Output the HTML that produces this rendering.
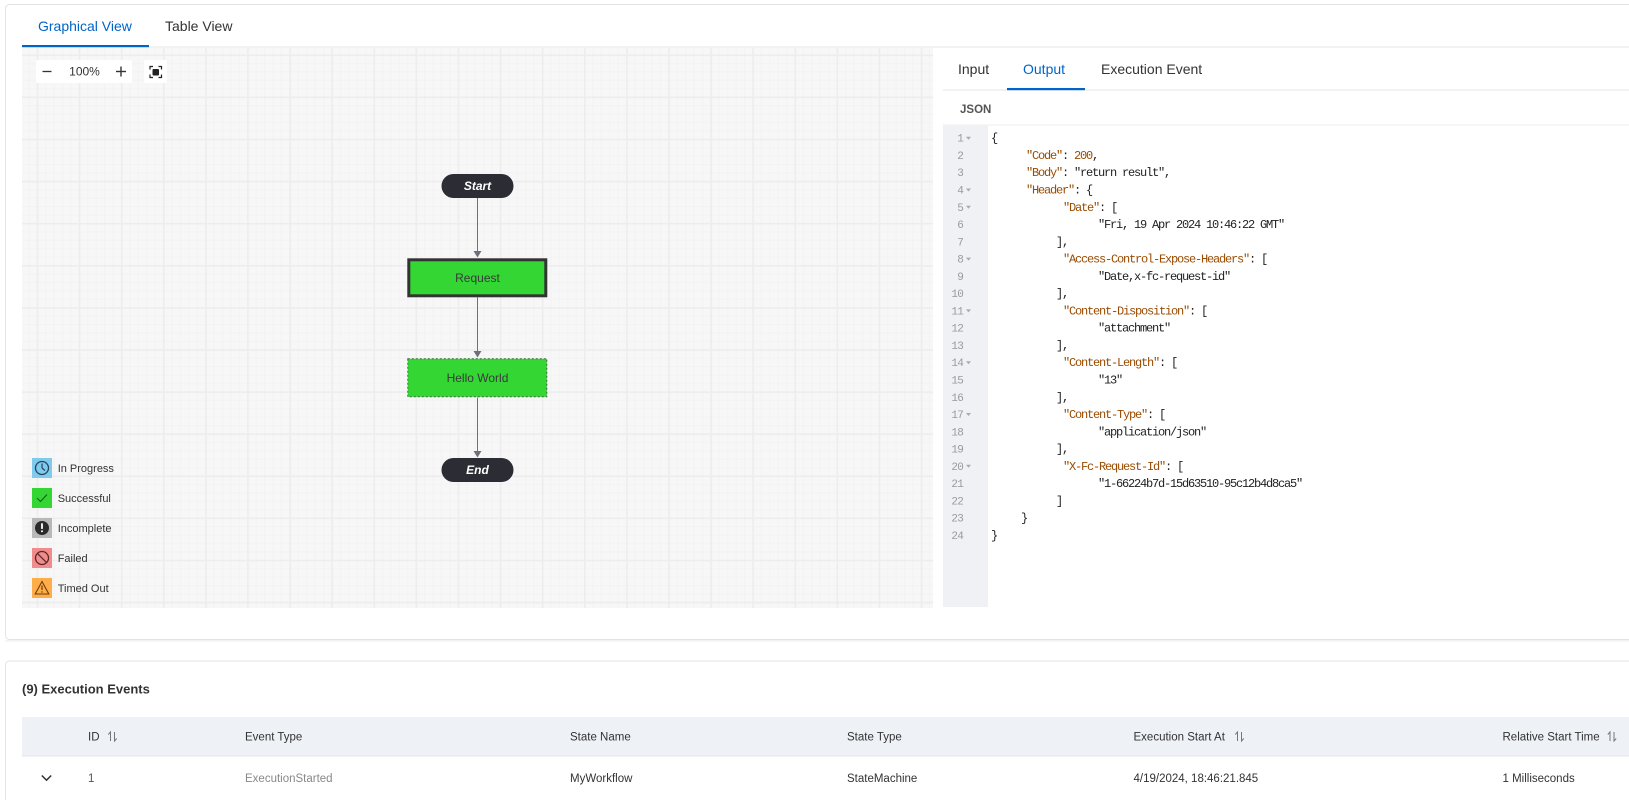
<!DOCTYPE html>
<html>
<head>
<meta charset="utf-8">
<style>
  html, body { margin:0; padding:0; background:#ffffff; }
  body { width:1629px; height:800px; overflow:hidden; position:relative; }
  svg { position:absolute; left:0; top:0; }
  .sans { font-family:"Liberation Sans", Arial, sans-serif; }
  .mono { font-family:"Liberation Mono", monospace; font-size:12px; letter-spacing:-1.2px; }
  .ln { font-family:"Liberation Mono", monospace; font-size:11px; letter-spacing:-0.8px; fill:#9a9a9a; }
</style>
</head>
<body>
<svg width="1629" height="800" viewBox="0 0 1629 800" xmlns="http://www.w3.org/2000/svg">
  <defs>
    <pattern id="minor" patternUnits="userSpaceOnUse" x="36.7" y="54.5" width="8.42" height="8.42">
      <rect width="8.42" height="8.42" fill="#f7f7f7"/>
      <rect x="0" y="0" width="1" height="8.42" fill="#f3f3f3"/>
      <rect x="0" y="0" width="8.42" height="1" fill="#f3f3f3"/>
    </pattern>
    <pattern id="major" patternUnits="userSpaceOnUse" x="36.7" y="54.5" width="42.1" height="42.1">
      <rect x="0" y="0" width="1.6" height="42.1" fill="#ededed"/>
      <rect x="0" y="0" width="42.1" height="1.6" fill="#ededed"/>
    </pattern>
    <clipPath id="gclip"><rect x="22" y="48" width="911" height="560"/></clipPath>
  </defs>

  <!-- Card 1 -->
  <rect x="5" y="640" width="1700" height="1.5" fill="#f2f2f2"/>
  <rect x="5.5" y="4.5" width="1700" height="635" rx="4" fill="#ffffff" stroke="#e3e3e3"/>

  <!-- Top tabs -->
  <text class="sans" x="38" y="31" font-size="14" fill="#0064c8">Graphical View</text>
  <text class="sans" x="165" y="31" font-size="14" fill="#333333">Table View</text>
  <rect x="22" y="46.5" width="1607" height="1" fill="#e6e6e6"/>
  <rect x="22" y="45" width="127" height="2.2" fill="#0064c8"/>

  <!-- Graph area -->
  <g clip-path="url(#gclip)">
    <rect x="22" y="48" width="911" height="560" fill="url(#minor)"/>
    <rect x="22" y="48" width="911" height="560" fill="url(#major)"/>
  </g>

  <!-- Zoom controls -->
  <rect x="36" y="60" width="96" height="23" rx="2" fill="#ffffff"/>
  <line x1="42.5" y1="71.5" x2="51.5" y2="71.5" stroke="#333" stroke-width="1.3"/>
  <text class="sans" x="84.5" y="75.5" font-size="12" fill="#333" text-anchor="middle">100%</text>
  <line x1="116" y1="71.5" x2="126" y2="71.5" stroke="#333" stroke-width="1.4"/>
  <line x1="121" y1="66.5" x2="121" y2="76.5" stroke="#333" stroke-width="1.4"/>
  <rect x="144" y="60" width="23" height="23" rx="2" fill="#ffffff"/>
  <path d="M150 69.5 V66.5 H153 M158.5 66.5 H161.5 V69.5 M161.5 74.5 V77.5 H158.5 M153 77.5 H150 V74.5" stroke="#222" stroke-width="1.2" fill="none"/>
  <rect x="152.5" y="69" width="6.5" height="6.5" rx="1" fill="#222"/>

  <!-- Flow chart -->
  <g stroke="#6f7077" stroke-width="1" fill="none">
    <line x1="477.5" y1="198" x2="477.5" y2="252"/>
    <line x1="477.5" y1="297.5" x2="477.5" y2="352"/>
    <line x1="477.5" y1="397.5" x2="477.5" y2="452"/>
  </g>
  <g fill="#6f7077">
    <polygon points="473.5,251 481.5,251 477.5,257.5"/>
    <polygon points="473.5,351 481.5,351 477.5,357.5"/>
    <polygon points="473.5,451 481.5,451 477.5,457.5"/>
  </g>
  <rect x="441.5" y="174" width="72" height="24" rx="12" fill="#2c2c34"/>
  <text class="sans" x="477.5" y="190.2" font-size="12" font-weight="bold" font-style="italic" fill="#ffffff" text-anchor="middle">Start</text>

  <rect x="408.8" y="259.8" width="137" height="36" fill="#33d633" stroke="#333333" stroke-width="3"/>
  <text class="sans" x="477.5" y="282" font-size="12" fill="#3a3a3a" text-anchor="middle">Request</text>

  <rect x="407.8" y="358.8" width="139" height="38" fill="#33d633" stroke="#3d6b3d" stroke-width="1" stroke-dasharray="2,2"/>
  <text class="sans" x="477.5" y="382" font-size="12" fill="#3a3a3a" text-anchor="middle">Hello World</text>

  <rect x="441.5" y="458" width="72" height="24" rx="12" fill="#2c2c34"/>
  <text class="sans" x="477.5" y="474.2" font-size="12" font-weight="bold" font-style="italic" fill="#ffffff" text-anchor="middle">End</text>

  <!-- Legend -->
  <rect x="32" y="458" width="20" height="20" fill="#7ecbee"/>
  <circle cx="42" cy="468" r="6.5" stroke="#29435c" stroke-width="1.3" fill="none"/>
  <path d="M42 468 V463.5 M42 468 L45 470.5" stroke="#29435c" stroke-width="1.2" fill="none"/>
  <text class="sans" x="57.7" y="472" font-size="11" fill="#333">In Progress</text>

  <rect x="32" y="488" width="20" height="20" fill="#33d633"/>
  <polyline points="37,498 40.5,501.5 47,494.5" stroke="#1f4f1f" stroke-width="1" fill="none"/>
  <text class="sans" x="57.7" y="502" font-size="11" fill="#333">Successful</text>

  <rect x="32" y="518" width="20" height="20" fill="#b8b8b8"/>
  <circle cx="42" cy="528" r="7" fill="#2a2a2a"/>
  <rect x="41.1" y="523.3" width="1.8" height="5.6" fill="#ffffff"/>
  <circle cx="42" cy="531.3" r="1" fill="#ffffff"/>
  <text class="sans" x="57.7" y="532" font-size="11" fill="#333">Incomplete</text>

  <rect x="32" y="548" width="20" height="20" fill="#f28b8b"/>
  <circle cx="42" cy="558" r="6.5" stroke="#5a2a2a" stroke-width="1.3" fill="none"/>
  <line x1="37.4" y1="553.4" x2="46.6" y2="562.6" stroke="#5a2a2a" stroke-width="1.3"/>
  <text class="sans" x="57.7" y="562" font-size="11" fill="#333">Failed</text>

  <rect x="32" y="578" width="20" height="20" fill="#ffad4a"/>
  <polygon points="42,581.5 48.8,594 35.2,594" stroke="#6b4000" stroke-width="1.1" fill="none"/>
  <line x1="42" y1="585.5" x2="42" y2="590" stroke="#6b4000" stroke-width="1.2"/>
  <circle cx="42" cy="592" r="0.7" fill="#6b4000"/>
  <text class="sans" x="57.7" y="592" font-size="11" fill="#333">Timed Out</text>

  <!-- Right panel tabs -->
  <text class="sans" x="958" y="74" font-size="14" fill="#333333">Input</text>
  <text class="sans" x="1023" y="74" font-size="14" fill="#0064c8">Output</text>
  <text class="sans" x="1101" y="74" font-size="14" fill="#333333">Execution Event</text>
  <rect x="943" y="89.5" width="686" height="1" fill="#e6e6e6"/>
  <rect x="1007" y="88" width="78" height="2.2" fill="#0064c8"/>

  <!-- JSON header -->
  <text class="sans" x="960" y="113" font-size="11.5" font-weight="bold" fill="#555555">JSON</text>
  <rect x="943" y="124.5" width="686" height="1" fill="#ececec"/>

  <!-- Gutter -->
  <rect x="943" y="125" width="45" height="482" fill="#eff1f4"/>

  <!-- Line numbers -->
  <g class="ln" text-anchor="end">
    <text x="963" y="141.7">1</text>
    <text x="963" y="159.0">2</text>
    <text x="963" y="176.2">3</text>
    <text x="963" y="193.5">4</text>
    <text x="963" y="210.8">5</text>
    <text x="963" y="228.1">6</text>
    <text x="963" y="245.3">7</text>
    <text x="963" y="262.6">8</text>
    <text x="963" y="279.9">9</text>
    <text x="963" y="297.1">10</text>
    <text x="963" y="314.4">11</text>
    <text x="963" y="331.7">12</text>
    <text x="963" y="349.0">13</text>
    <text x="963" y="366.2">14</text>
    <text x="963" y="383.5">15</text>
    <text x="963" y="400.8">16</text>
    <text x="963" y="418.0">17</text>
    <text x="963" y="435.3">18</text>
    <text x="963" y="452.6">19</text>
    <text x="963" y="469.8">20</text>
    <text x="963" y="487.1">21</text>
    <text x="963" y="504.4">22</text>
    <text x="963" y="521.6">23</text>
    <text x="963" y="538.9">24</text>
  </g>
  <g fill="#aaaaaa">
    <polygon points="966,136.7 971,136.7 968.5,139.7"/>
    <polygon points="966,188.5 971,188.5 968.5,191.5"/>
    <polygon points="966,205.8 971,205.8 968.5,208.8"/>
    <polygon points="966,257.6 971,257.6 968.5,260.6"/>
    <polygon points="966,309.4 971,309.4 968.5,312.4"/>
    <polygon points="966,361.2 971,361.2 968.5,364.2"/>
    <polygon points="966,413.0 971,413.0 968.5,416.0"/>
    <polygon points="966,464.8 971,464.8 968.5,467.8"/>
  </g>

  <!-- Code -->
  <g class="mono" fill="#222222">
    <text x="991" y="141.7">{</text>
    <text x="1026" y="159.0"><tspan fill="#9a4b00">"Code"</tspan>: <tspan fill="#9a4b00">200</tspan>,</text>
    <text x="1026" y="176.2"><tspan fill="#9a4b00">"Body"</tspan>: "return result",</text>
    <text x="1026" y="193.5"><tspan fill="#9a4b00">"Header"</tspan>: {</text>
    <text x="1063" y="210.8"><tspan fill="#9a4b00">"Date"</tspan>: [</text>
    <text x="1098" y="228.1">"Fri, 19 Apr 2024 10:46:22 GMT"</text>
    <text x="1056" y="245.3">],</text>
    <text x="1063" y="262.6"><tspan fill="#9a4b00">"Access-Control-Expose-Headers"</tspan>: [</text>
    <text x="1098" y="279.9">"Date,x-fc-request-id"</text>
    <text x="1056" y="297.1">],</text>
    <text x="1063" y="314.4"><tspan fill="#9a4b00">"Content-Disposition"</tspan>: [</text>
    <text x="1098" y="331.7">"attachment"</text>
    <text x="1056" y="349.0">],</text>
    <text x="1063" y="366.2"><tspan fill="#9a4b00">"Content-Length"</tspan>: [</text>
    <text x="1098" y="383.5">"13"</text>
    <text x="1056" y="400.8">],</text>
    <text x="1063" y="418.0"><tspan fill="#9a4b00">"Content-Type"</tspan>: [</text>
    <text x="1098" y="435.3">"application/json"</text>
    <text x="1056" y="452.6">],</text>
    <text x="1063" y="469.8"><tspan fill="#9a4b00">"X-Fc-Request-Id"</tspan>: [</text>
    <text x="1098" y="487.1">"1-66224b7d-15d63510-95c12b4d8ca5"</text>
    <text x="1056" y="504.4">]</text>
    <text x="1021" y="521.6">}</text>
    <text x="991" y="538.9">}</text>
  </g>

  <!-- Card 2 -->
  <rect x="5.5" y="661" width="1700" height="150" rx="4" fill="#ffffff" stroke="#e3e3e3"/>
  <text class="sans" x="22" y="693.5" font-size="13" font-weight="bold" fill="#333333">(9) Execution Events</text>

  <rect x="22" y="717" width="1607" height="39" fill="#eef1f6"/>
  <rect x="22" y="755.5" width="1607" height="1" fill="#e2e5ea"/>
  <g class="sans" font-size="11.5" fill="#333333">
    <text x="88" y="740.5">ID</text>
    <text x="245" y="740.5">Event Type</text>
    <text x="570" y="740.5">State Name</text>
    <text x="847" y="740.5">State Type</text>
    <text x="1133.5" y="740.5">Execution Start At</text>
    <text x="1502.5" y="740.5">Relative Start Time</text>
  </g>
  <g stroke="#777777" stroke-width="1" fill="none">
    <path d="M110.5 741 V732 L108.3 734.5 M114.5 732 V741 L116.7 738.5"/>
    <path d="M1237.5 741 V732 L1235.3 734.5 M1241.5 732 V741 L1243.7 738.5"/>
    <path d="M1610 741 V732 L1607.8 734.5 M1614 732 V741 L1616.2 738.5"/>
  </g>

  <polyline points="41.8,775.5 46.5,780.2 51.2,775.5" stroke="#333" stroke-width="1.5" fill="none"/>
  <g class="sans" font-size="11.5">
    <text x="88" y="782" fill="#555555">1</text>
    <text x="245" y="782" fill="#888888">ExecutionStarted</text>
    <text x="570" y="782" fill="#333333">MyWorkflow</text>
    <text x="847" y="782" fill="#333333">StateMachine</text>
    <text x="1133.5" y="782" fill="#333333">4/19/2024, 18:46:21.845</text>
    <text x="1502.5" y="782" fill="#333333">1 Milliseconds</text>
  </g>
</svg>
</body>
</html>
